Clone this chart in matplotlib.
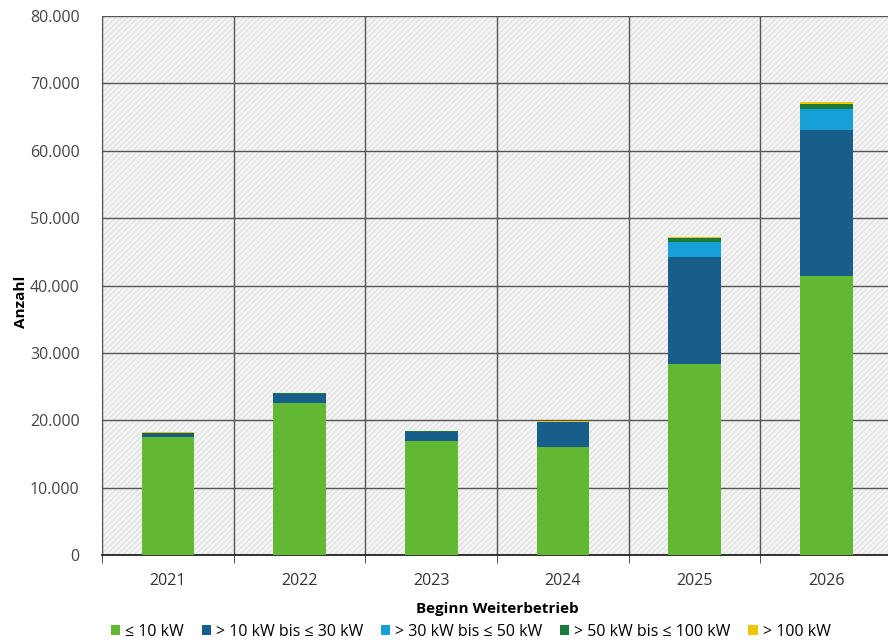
import numpy as np
import matplotlib
matplotlib.use('Agg')
import matplotlib.pyplot as plt
from matplotlib.patches import Rectangle

years = ['2021', '2022', '2023', '2024', '2025', '2026']
labels = ['≤ 10 kW', '> 10 kW bis ≤ 30 kW', '> 30 kW bis ≤ 50 kW',
          '> 50 kW bis ≤ 100 kW', '> 100 kW']
le_10 = [17500, 22550, 16900, 16000, 28300, 41400]
b10_30 = [600, 1350, 1350, 3700, 15900, 21650]
b30_50 = [50, 60, 70, 60, 2200, 3100]
b50_100 = [30, 40, 50, 40, 600, 750]
gt_100 = [80, 100, 100, 60, 150, 300]
colors = ['#62b832', '#175e8a', '#17a0d8', '#1b7c3a', '#f2c300']

plt.rcParams['font.family'] = ['Open Sans', 'DejaVu Sans']
fig = plt.figure(figsize=(8.88, 6.4), dpi=100)
ax = fig.add_axes([102/888, 1-555/640, 790/888, 539/640])

# hatched grey background
ax.set_facecolor('#f4f4f4')
ax.add_patch(Rectangle((0, 0), 1, 1, transform=ax.transAxes, facecolor='none',
                       edgecolor='#e2e2e2', hatch='//////', lw=0, zorder=0))

x = np.arange(len(years))
bottom = np.zeros(len(years))
for vals, c, lab in zip([le_10, b10_30, b30_50, b50_100, gt_100], colors, labels):
    ax.bar(x, vals, 0.4, bottom=bottom, color=c, label=lab, zorder=3)
    bottom += np.array(vals)

ax.set_xlim(-0.5, len(years) - 0.5)
ax.set_ylim(0, 80000)
ax.set_yticks(np.arange(0, 80001, 10000))
ax.set_yticklabels([f'{v:,}'.replace(',', '.') for v in range(0, 80001, 10000)])
ax.set_xticks(x)
ax.set_xticklabels(years)
ax.set_xticks(np.arange(-0.5, len(years), 1), minor=True)
ax.tick_params(axis='x', which='major', length=0, pad=13, labelsize=11.5, labelcolor='#333333')
ax.tick_params(axis='x', which='minor', length=6, direction='out', color='#333333')
ax.tick_params(axis='y', length=0, pad=16, labelsize=11.5, labelcolor='#444444')
ax.grid(axis='y', which='major', color='#555555', lw=1, zorder=1)
ax.grid(axis='x', which='minor', color='#555555', lw=1, zorder=1)
ax.set_axisbelow(True)
for s in ['top', 'right']:
    ax.spines[s].set_visible(False)
ax.spines['left'].set_color('#555555')
ax.spines['bottom'].set_color('#222222')
ax.spines['bottom'].set_linewidth(1.3)

ax.set_ylabel('Anzahl', fontsize=11, fontweight='bold')
ax.yaxis.set_label_coords(-0.094, 0.47)
ax.set_xlabel('Beginn Weiterbetrieb', fontsize=11, fontweight='bold', labelpad=9)

handles, labs = ax.get_legend_handles_labels()
fig.legend(handles, labs, loc='lower center', bbox_to_anchor=(0.53, -0.022), ncol=5,
           frameon=False, fontsize=11.5, handlelength=0.6, handleheight=0.6,
           handletextpad=0.3, columnspacing=1.1)

plt.savefig('out.png', dpi=100)
